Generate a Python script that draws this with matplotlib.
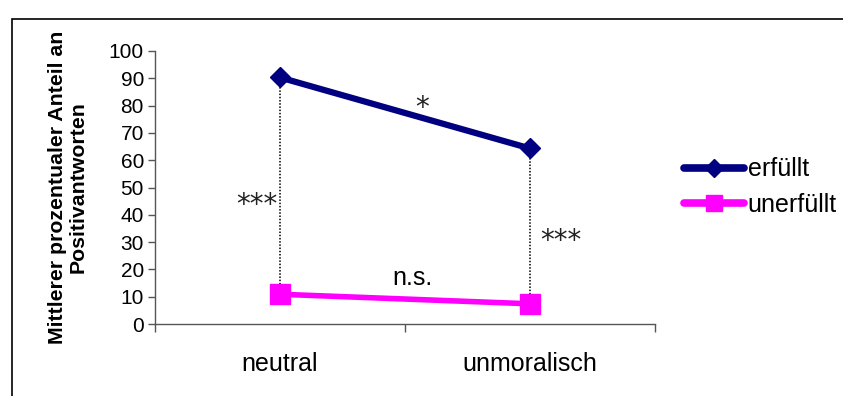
import numpy as np
import matplotlib
matplotlib.use("Agg")
import matplotlib.pyplot as plt
from matplotlib.lines import Line2D
from matplotlib.patches import Rectangle

plt.rcParams['font.family'] = ['Liberation Sans', 'DejaVu Sans']

# mean share of positive answers (%)
conditions = ["neutral", "unmoralisch"]
erfuellt = [90.3, 64.3]
unerfuellt = [10.9, 7.4]
series_names = ["erfüllt", "unerfüllt"]
ylabel = "Mittlerer prozentualer Anteil an\nPositivantworten"

navy = "#000080"
pink = "#FF00FF"
txt = 18

fig = plt.figure(figsize=(8.43, 3.96), dpi=100)
ax = fig.add_axes([155 / 843, 1 - 324 / 396, 500 / 843, 273 / 396])

xpos = np.arange(len(conditions)) + 0.5

# vertical dotted connectors between the two series
for x, hi, lo in zip(xpos, erfuellt, unerfuellt):
    ax.plot([x, x], [lo, hi], color="black", lw=1.1, ls=(0, (1, 1.1)), zorder=1)

ax.plot(xpos, erfuellt, color=navy, lw=4.5, marker="D", markersize=10,
        solid_capstyle="round", zorder=3)
ax.plot(xpos, unerfuellt, color=pink, lw=4, marker="s", markersize=14.5,
        solid_capstyle="round", zorder=3)

ax.set_xlim(0, 2)
ax.set_ylim(0, 100)
ax.set_yticks(np.arange(0, 101, 10))
ax.set_xticks([0, 1, 2])
ax.set_xticklabels([])
ax.set_xticks(xpos, minor=True)
ax.set_xticklabels(conditions, minor=True, fontsize=txt)
ax.tick_params(axis="x", which="minor", length=0, pad=20)
ax.tick_params(axis="x", which="major", length=6, width=1, color="#555555")
ax.tick_params(axis="y", length=5, width=1, color="#555555", labelsize=15, pad=3)

for s in ["top", "right"]:
    ax.spines[s].set_visible(False)
for s in ["left", "bottom"]:
    ax.spines[s].set_color("#555555")
    ax.spines[s].set_linewidth(1)

ax.set_ylabel(ylabel, fontsize=15.3, fontweight="bold", labelpad=15,
              linespacing=1.15)

# significance marks
star_font = dict(family="DejaVu Sans", fontsize=20, color="#222222")
ax.text(1.07, 79, "*", ha="center", va="center", **star_font)
ax.text(0.49, 43.5, "***", ha="right", va="center", **star_font)
ax.text(1.54, 30.5, "***", ha="left", va="center", **star_font)
ax.text(1.03, 17, "n.s.", ha="center", va="center", fontsize=txt)

# legend
handles = [
    Line2D([], [], color=navy, lw=5.5, marker="D", markersize=8.7, solid_capstyle="round"),
    Line2D([], [], color=pink, lw=5.5, marker="s", markersize=12, solid_capstyle="round"),
]
fig.legend(handles, series_names, loc="center left",
           bbox_to_anchor=(684 / 843, 1 - 187 / 396), frameon=False,
           fontsize=txt, handlelength=2.4, handletextpad=0.15,
           labelspacing=0.45, borderpad=0, borderaxespad=0)

# outer frame
fig.patches.append(Rectangle((12 / 843, -0.2), 1.2, 1.2 - 19 / 396,
                             transform=fig.transFigure, fill=False,
                             edgecolor="black", lw=1.2))

fig.savefig("out.png", dpi=100)
